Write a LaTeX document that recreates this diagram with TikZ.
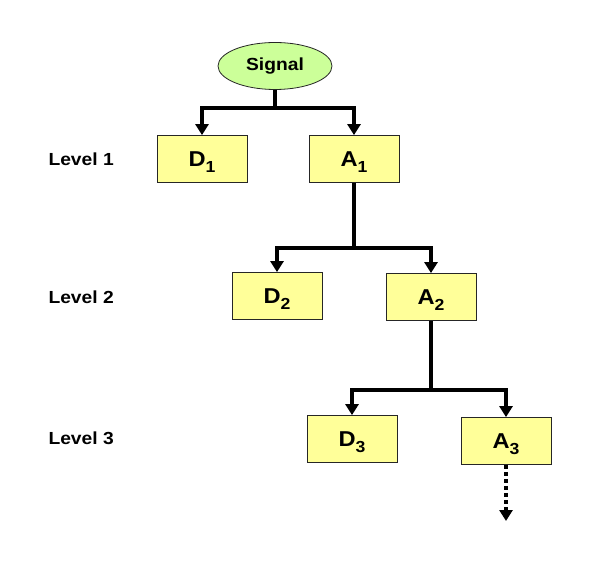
\documentclass[tikz,border=0pt]{standalone}
\usepackage{fontspec}
\setmainfont{Liberation Sans}[FakeStretch=1.1]
\usetikzlibrary{shapes.geometric,arrows.meta}
\definecolor{boxfill}{HTML}{FFFF99}
\definecolor{ellfill}{HTML}{CCFF99}
\newcommand{\mysub}[1]{\smash{\raisebox{-6.5pt}{\fontsize{16}{16}\selectfont #1}}}
\begin{document}
\begin{tikzpicture}[x=1pt,y=-1pt,
  box/.style={draw=black!85,line width=0.8pt,fill=boxfill,minimum width=90pt,minimum height=47pt,inner sep=0pt,font=\fontsize{21.5}{23}\selectfont\bfseries},
  conn/.style={line width=4pt,-{Triangle[width=13pt,length=11pt]}},
  stem/.style={line width=4pt},
  lvl/.style={font=\fontsize{17.5}{19}\selectfont\bfseries,anchor=west}]
\useasboundingbox (0,0) rectangle (600,585);
\node[ellipse,draw=black!85,line width=0.8pt,fill=ellfill,minimum width=114pt,minimum height=47pt,inner sep=0pt,font=\fontsize{17.5}{19}\selectfont\bfseries] (sig) at (275,66) {Signal};
\node[box] (d1) at (202,159) {D\mysub{1}};
\node[box] (a1) at (354,159) {A\mysub{1}};
\node[box] (d2) at (277,296) {D\mysub{2}};
\node[box] (a2) at (431,297) {A\mysub{2}};
\node[box] (d3) at (352,439) {D\mysub{3}};
\node[box] (a3) at (506,441) {A\mysub{3}};
\node[lvl] (l1) at (45,159) {Level 1};
\node[lvl] (l2) at (45,297) {Level 2};
\node[lvl] (l3) at (45,438) {Level 3};
\coordinate (j1) at (275,108);
\coordinate (j2) at (354,248);
\coordinate (j3) at (431,390);
\coordinate (e3) at (506,521);
\draw[stem] (sig.south) -- (j1);
\draw[conn] (j1) -| (d1.north);
\draw[conn] (j1) -| (a1.north);
\draw[stem] (a1.south) -- (j2);
\draw[conn] (j2) -| (d2.north);
\draw[conn] (j2) -| (a2.north);
\draw[stem] (a2.south) -- (j3);
\draw[conn] (j3) -| (d3.north);
\draw[conn] (j3) -| (a3.north);
\draw[line width=4pt,dash pattern=on 4pt off 3pt,-{Triangle[width=13pt,length=11pt]}] (a3.south) -- (e3);
\end{tikzpicture}
\end{document}
